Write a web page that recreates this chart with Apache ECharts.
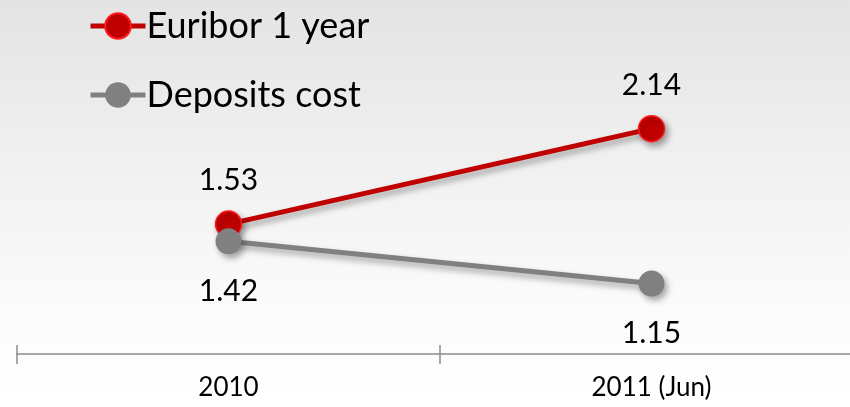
<!DOCTYPE html>
<html>
<head>
<meta charset="utf-8">
<script src="https://cdn.jsdelivr.net/npm/echarts@6/dist/echarts.min.js"></script>
<style>
  html, body { margin: 0; padding: 0; }
  #main { width: 850px; height: 407px; }
</style>
</head>
<body>
<div id="main"></div>
<script>
var categories = ['2010', '2011 (Jun)'];
var euribor = [1.53, 2.14];
var deposits = [1.42, 1.15];

var font = 'Lato, "Open Sans", sans-serif';
var shadow = { shadowColor: 'rgba(0,0,0,0.35)', shadowBlur: 6, shadowOffsetX: 3, shadowOffsetY: 4 };

var option = {
  backgroundColor: {
    type: 'linear', x: 0, y: 0, x2: 0, y2: 1,
    colorStops: [
      { offset: 0, color: '#e4e4e4' },
      { offset: 0.75, color: '#fbfbfb' },
      { offset: 1, color: '#ffffff' }
    ]
  },
  textStyle: { fontFamily: font },
  legend: {
    orient: 'vertical',
    left: 83,
    top: 3,
    itemWidth: 55,
    itemHeight: 32,
    itemGap: 33,
    lineStyle: { width: 5 },
    textStyle: { fontSize: 36, color: '#000', fontFamily: font, padding: [0, 0, 0, -4] },
    data: ['Euribor 1 year', 'Deposits cost']
  },
  grid: { left: 17, width: 846, top: 41, bottom: 53, outerBoundsMode: 'none' },
  xAxis: [{
    type: 'category',
    data: categories,
    axisLine: { show: true, lineStyle: { color: '#8c8c8c', width: 1.5 } },
    axisTick: { show: true, interval: 0, length: 10, lineStyle: { color: '#8c8c8c', width: 1.5 } },
    axisLabel: { fontSize: 26, color: '#000', margin: 21, fontFamily: font }
  }, {
    type: 'category',
    data: categories,
    position: 'bottom',
    axisLine: { show: false },
    axisTick: { show: true, interval: 0, inside: true, length: 9, lineStyle: { color: '#8c8c8c', width: 1.5 } },
    axisLabel: { show: false }
  }],
  yAxis: {
    type: 'value',
    min: 0.7,
    max: 2.7,
    show: false
  },
  series: [{
    name: 'Euribor 1 year',
    type: 'line',
    data: euribor,
    symbol: 'circle',
    symbolSize: 26,
    lineStyle: Object.assign({ color: '#c00000', width: 5 }, shadow),
    itemStyle: Object.assign({ color: '#c00000', borderColor: '#ff1a1a', borderWidth: 1.5 }, shadow),
    label: { show: true, position: 'top', distance: 15, fontSize: 30, color: '#000', fontFamily: font },
    z: 2
  }, {
    name: 'Deposits cost',
    type: 'line',
    data: deposits,
    symbol: 'circle',
    symbolSize: 26,
    lineStyle: Object.assign({ color: '#808080', width: 5 }, shadow),
    itemStyle: Object.assign({ color: '#808080' }, shadow),
    label: { show: true, position: 'bottom', distance: 22, fontSize: 30, color: '#000', fontFamily: font },
    z: 3
  }]
};

var myChart = echarts.init(document.getElementById('main'));
myChart.setOption(option);
</script>
</body>
</html>
